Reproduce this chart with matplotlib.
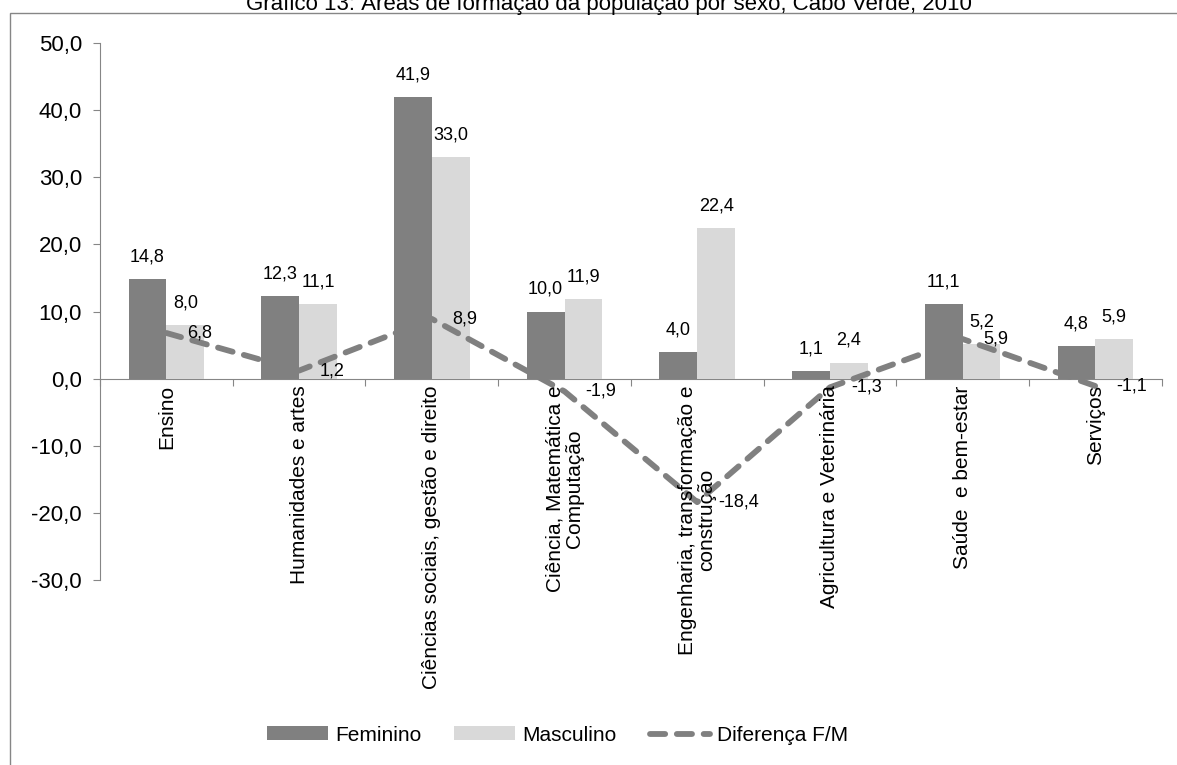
import numpy as np
import matplotlib
matplotlib.use('Agg')
import matplotlib.pyplot as plt
from matplotlib.patches import Rectangle

plt.rcParams['font.family'] = ['Liberation Sans', 'DejaVu Sans']

# data
categories = ['Ensino', 'Humanidades e artes', 'Ciências sociais, gestão e direito',
              'Ciência, Matemática e\nComputação', 'Engenharia, transformação e\nconstrução',
              'Agricultura e Veterinária', 'Saúde  e bem-estar', 'Serviços']
feminino = [14.8, 12.3, 41.9, 10.0, 4.0, 1.1, 11.1, 4.8]
masculino = [8.0, 11.1, 33.0, 11.9, 22.4, 2.4, 5.2, 5.9]
diferenca = [6.8, 1.2, 8.9, -1.9, -18.4, -1.3, 5.9, -1.1]
yticks = [-30, -20, -10, 0, 10, 20, 30, 40, 50]

def fmt(v):
    return ('%.1f' % v).replace('.', ',')

dark = '#808080'
light = '#d9d9d9'
axis_col = '#868686'

fig = plt.figure(figsize=(11.77, 7.65), dpi=100)
ax = fig.add_axes([0.085, 0.2418, 0.902, 0.702])

x = np.arange(len(categories))
w = 0.285
b1 = ax.bar(x - w/2, feminino, w, color=dark, label='Feminino', zorder=2)
b2 = ax.bar(x + w/2, masculino, w, color=light, label='Masculino', zorder=2)
ln, = ax.plot(x, diferenca, color=dark, lw=4.2, linestyle=(0, (2.6, 2.0)),
              dash_capstyle='round', label='Diferença F/M', zorder=3)

for xi, v in zip(x, feminino):
    ax.annotate(fmt(v), (xi - w/2, v), xytext=(0, 16), textcoords='offset points',
                ha='center', va='center', fontsize=13)
for xi, v in zip(x, masculino):
    ax.annotate(fmt(v), (xi + w/2, v), xytext=(0, 16), textcoords='offset points',
                ha='center', va='center', fontsize=13)
for xi, v in zip(x, diferenca):
    ax.annotate(fmt(v), (xi, v), xytext=(15, 0), textcoords='offset points',
                ha='left', va='center', fontsize=13, zorder=4)

ax.set_xlim(-0.5, len(categories) - 0.5)
ax.set_ylim(-30, 50)
ax.set_yticks(yticks)
ax.set_yticklabels([fmt(t) for t in yticks], fontsize=16)
ax.tick_params(axis='y', direction='out', length=5, color=axis_col, pad=8)

ax.spines['top'].set_visible(False)
ax.spines['right'].set_visible(False)
ax.spines['left'].set_color(axis_col)
ax.spines['bottom'].set_color(axis_col)
ax.spines['bottom'].set_position(('data', 0))
ax.spines['bottom'].set_zorder(1)

ax.set_xticks(np.arange(-0.5, len(categories), 1.0))
ax.set_xticklabels([])
ax.tick_params(axis='x', direction='out', length=5, color=axis_col)
for xi, c in zip(x, categories):
    ax.text(xi, -1.0, c, rotation=90, ha='center', va='top', fontsize=15,
            multialignment='center', linespacing=1.0)

# outer frame and title (title is cut at the top edge, as in the source)
fig.patches.append(Rectangle((10/1177, -0.1), 1.2, 1.1 - 13/765, transform=fig.transFigure,
                             fill=False, edgecolor=axis_col, lw=1))
fig.text(0.517, 1 - 10/765, 'Gráfico 13: Áreas de formação da população por sexo, Cabo Verde, 2010',
         ha='center', va='baseline', fontsize=16)

fig.legend(handles=[b1, b2, ln], loc='center', bbox_to_anchor=(0.474, 0.039), ncol=3,
           frameon=False, fontsize=15, handlelength=2.9, handleheight=0.65,
           columnspacing=1.6, handletextpad=0.35)

fig.savefig('out.png', dpi=100)
